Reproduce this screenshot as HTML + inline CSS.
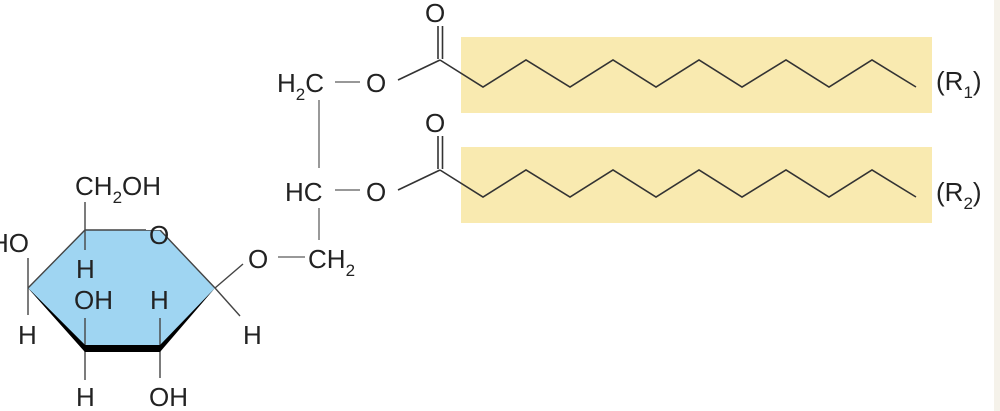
<!DOCTYPE html>
<html><head><style>
html,body{margin:0;padding:0;background:#fff;}
svg{display:block;}
text{font-family:"Liberation Sans",sans-serif;font-size:26px;fill:#222;}
</style></head><body>
<svg width="1000" height="411" viewBox="0 0 1000 411">
<rect x="994" y="0" width="6" height="411" fill="#f5f2ea"/>
<rect x="461" y="37" width="471" height="76" fill="#f9eab0"/>
<rect x="461" y="147" width="471" height="76" fill="#f9eab0"/>
<g stroke="#333" stroke-width="1.6" fill="none">
<polyline points="440,60 483,87 526,60 570,87 613,60 656,87 699,60 742,87 786,60 829,87 872,60 916,87"/>
<polyline points="440,170 483,197 526,170 570,197 613,170 656,197 699,170 742,197 786,170 829,197 872,170 916,197"/>
<line x1="438" y1="26" x2="438" y2="59"/><line x1="442.5" y1="26" x2="442.5" y2="59"/>
<line x1="438" y1="136" x2="438" y2="169"/><line x1="442.5" y1="136" x2="442.5" y2="169"/>
<line x1="398" y1="80" x2="440" y2="60"/>
<line x1="398" y1="190" x2="440" y2="170"/>
</g>
<g stroke="#777" stroke-width="1.5" fill="none">
<line x1="335" y1="82" x2="360" y2="82"/>
<line x1="335" y1="190" x2="360" y2="190"/>
<line x1="319" y1="100" x2="319" y2="168"/>
<line x1="319" y1="208" x2="319" y2="240"/>
<line x1="278" y1="257" x2="305" y2="257"/>
</g>
<text x="425" y="22">O</text>
<text x="425" y="132">O</text>
<text x="366" y="92">O</text>
<text x="366" y="201">O</text>
<text x="277" y="92">H<tspan font-size="17" dy="8">2</tspan><tspan dy="-8">C</tspan></text>
<text x="285" y="201">HC</text>
<text x="248" y="268">O</text>
<text x="308" y="268">CH<tspan font-size="17" dy="8">2</tspan></text>
<text x="936" y="90">(R<tspan font-size="17" dy="8">1</tspan><tspan dy="-8">)</tspan></text>
<text x="936" y="201">(R<tspan font-size="17" dy="8">2</tspan><tspan dy="-8">)</tspan></text>
<polygon points="85,230 160,230 215,288 160,348 85,348 28,288" fill="#9fd5f2"/>
<g stroke="#444" stroke-width="1.4" fill="none">
<polyline points="215,288 160,230 85,230 28,288"/>
<line x1="85" y1="202" x2="85" y2="250"/>
<line x1="28" y1="258" x2="28" y2="315"/>
<line x1="85" y1="318" x2="85" y2="380"/>
<line x1="160" y1="318" x2="160" y2="378"/>
<line x1="215" y1="288" x2="243" y2="264"/>
<line x1="215" y1="288" x2="240" y2="316"/>
</g>
<polygon points="28,288 85,345 160,345 215,288 160,352 85,352" fill="#000"/>
<polygon points="28,288 85,345 85,352" fill="#000"/>
<rect x="146" y="216" width="26" height="14" fill="#fff"/>
<text x="149" y="244">O</text>
<text x="75" y="195">CH<tspan font-size="17" dy="8">2</tspan><tspan dy="-8">OH</tspan></text>
<text x="-10" y="252">HO</text>
<text x="76" y="278">H</text>
<text x="74" y="309">OH</text>
<text x="150" y="309">H</text>
<text x="18" y="344">H</text>
<text x="243" y="344">H</text>
<text x="76" y="406">H</text>
<text x="149" y="406">OH</text>
</svg>
</body></html>
